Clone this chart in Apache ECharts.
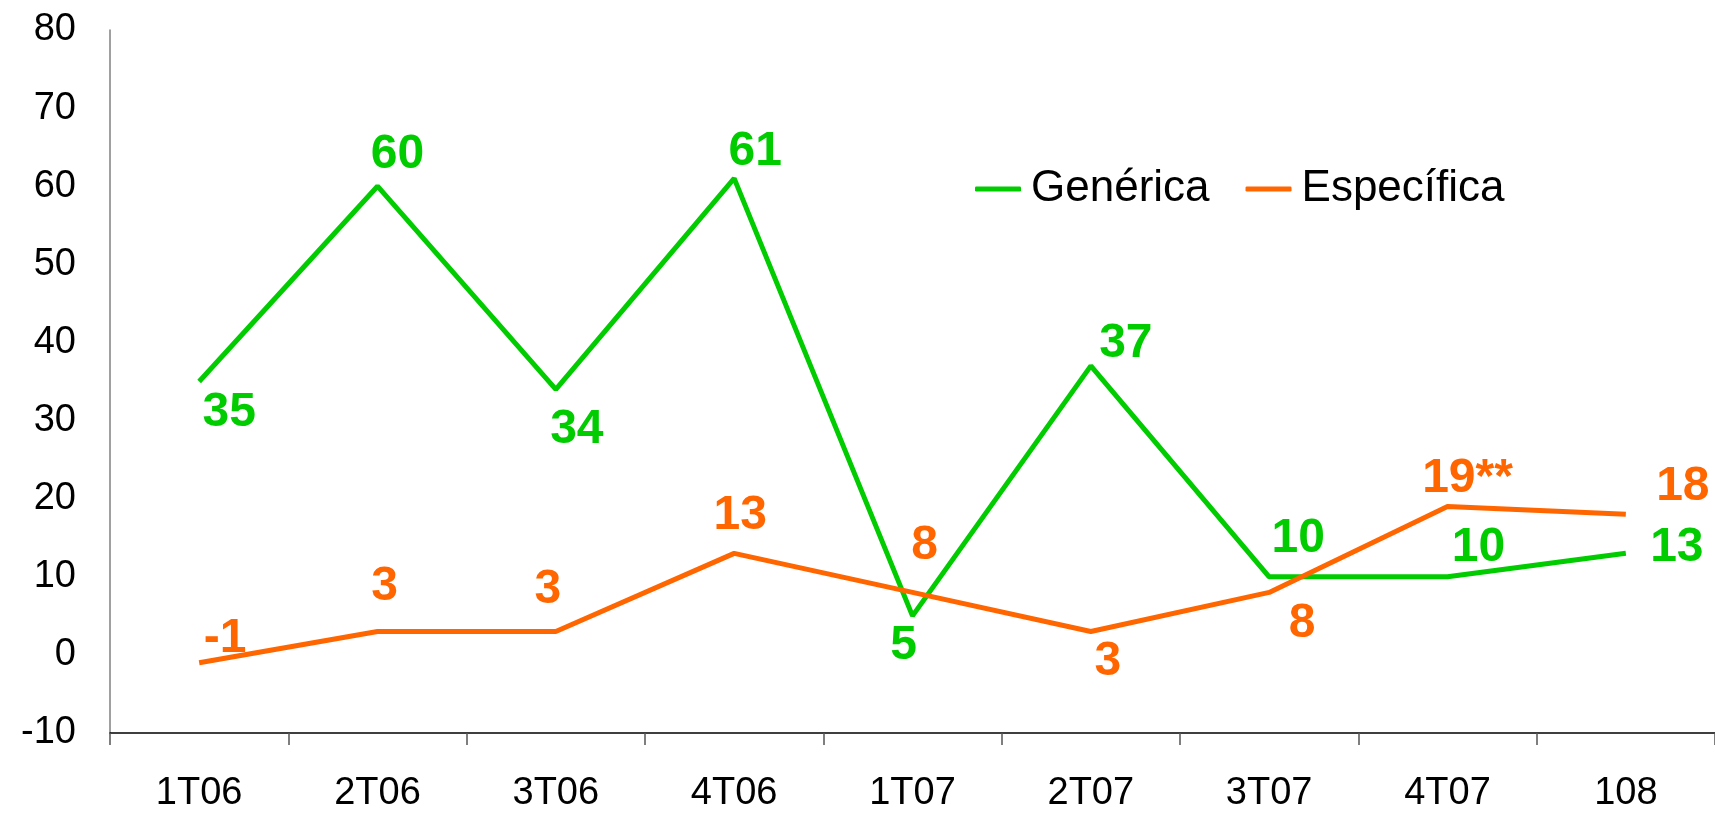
<!DOCTYPE html>
<html>
<head>
<meta charset="utf-8">
<script src="https://cdn.jsdelivr.net/npm/echarts@6/dist/echarts.min.js"></script>
<style>
html,body{margin:0;padding:0;background:#fff;}
#c{width:1715px;height:813px;}
</style>
</head>
<body>
<div id="c"></div>
<script>
const categories = ['1T06','2T06','3T06','4T06','1T07','2T07','3T07','4T07','108'];
const genericaValues = [35, 60, 34, 61, 5, 37, 10, 10, 13];
const especificaValues = [-1, 3, 3, 13, 8, 3, 8, 19, 18];
const especificaLabelSuffix = ['', '', '', '', '', '', '', '**', ''];
const yTicks = { min: -10, max: 80, interval: 10 };

// label placement (style only)
const genOffsets = [[30,31],[20,-31],[21,40],[21,-27],[-9,30],[35,-22],[29,-38],[31,-29],[51,-6]];
const espOffsets = [[26,-24],[7,-45],[-8,-42],[6,-38],[12,-47],[17,30],[33,31],[20,-28],[57,-28]];

const GREEN = '#00CC00';
const ORANGE = '#FF6600';
const FONT = 'Liberation Sans, Arial, sans-serif';

function buildData(values, offsets, color, suffix) {
  return values.map((v, i) => ({
    value: v,
    label: {
      show: true,
      position: 'inside',
      offset: offsets[i],
      color: color,
      fontFamily: FONT,
      fontWeight: 'bold',
      fontSize: 48,
      formatter: () => String(v) + (suffix ? suffix[i] : '')
    }
  }));
}

const chart = echarts.init(document.getElementById('c'));
chart.setOption({
  animation: false,
  backgroundColor: '#fff',
  grid: { left: 110, top: 30, width: 1615, height: 706, containLabel: false },
  legend: {
    left: 970, top: 162,
    itemWidth: 46, itemHeight: 5, itemGap: 36,
    icon: 'roundRect',
    textStyle: { fontFamily: FONT, fontSize: 44, color: '#000', padding: [0,0,0,5] },
    data: ['Genérica', 'Específica']
  },
  xAxis: {
    type: 'category',
    data: categories,
    boundaryGap: true,
    axisLine: { onZero: false, lineStyle: { color: '#000', width: 1.5 } },
    axisTick: { show: true, length: 12, lineStyle: { color: '#555', width: 1.5 } },
    axisLabel: { fontFamily: FONT, fontSize: 38, color: '#000', margin: 42 },
    splitLine: { show: false }
  },
  yAxis: {
    type: 'value',
    min: yTicks.min, max: yTicks.max, interval: yTicks.interval,
    axisLine: { show: true, lineStyle: { color: '#808080', width: 1.5 } },
    axisTick: { show: false },
    axisLabel: { fontFamily: FONT, fontSize: 38, color: '#000', margin: 34 },
    splitLine: { show: false }
  },
  series: [
    {
      name: 'Genérica', type: 'line',
      data: buildData(genericaValues, genOffsets, GREEN, null),
      symbol: 'circle', symbolSize: 0,
      lineStyle: { color: GREEN, width: 5 },
      itemStyle: { color: GREEN },
      z: 3
    },
    {
      name: 'Específica', type: 'line',
      data: buildData(especificaValues, espOffsets, ORANGE, especificaLabelSuffix),
      symbol: 'circle', symbolSize: 0,
      lineStyle: { color: ORANGE, width: 5 },
      itemStyle: { color: ORANGE },
      z: 4
    }
  ]
});
</script>
</body>
</html>
